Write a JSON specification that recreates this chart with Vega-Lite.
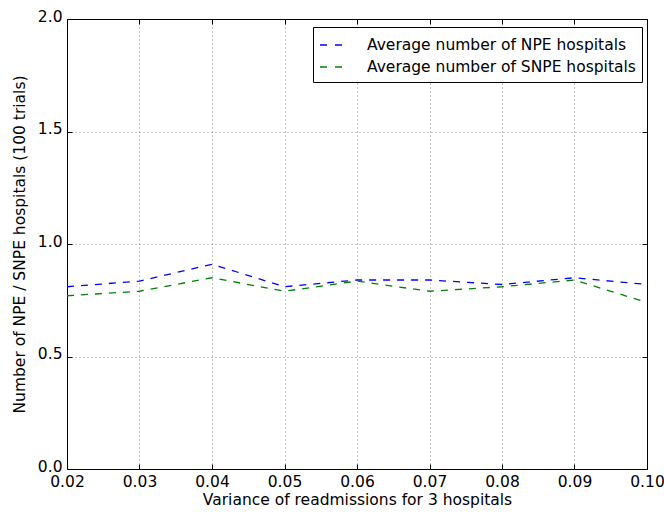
{
  "$schema": "https://vega.github.io/schema/vega-lite/v6.json",
  "width": 580,
  "height": 450,
  "autosize": {"type": "none"},
  "padding": {"left": 67, "top": 19, "right": 17, "bottom": 43},
  "background": "white",
  "config": {
    "view": {"stroke": "black", "strokeWidth": 1},
    "font": "DejaVu Sans",
    "axis": {
      "labelFont": "DejaVu Sans",
      "titleFont": "DejaVu Sans",
      "labelFontSize": 15.5,
      "titleFontSize": 15.5,
      "titleFontWeight": "normal",
      "labelColor": "black",
      "titleColor": "black",
      "domain": false,
      "tickColor": "black",
      "tickSize": -5,
      "grid": true,
      "gridColor": "black",
      "gridOpacity": 0.6,
      "gridDash": [1, 3],
      "gridWidth": 0.8
    }
  },
  "data": {
    "values": [
      {"x": 0.02, "y": 0.81, "s": "Average number of NPE hospitals"},
      {"x": 0.03, "y": 0.835, "s": "Average number of NPE hospitals"},
      {"x": 0.04, "y": 0.91, "s": "Average number of NPE hospitals"},
      {"x": 0.05, "y": 0.81, "s": "Average number of NPE hospitals"},
      {"x": 0.06, "y": 0.84, "s": "Average number of NPE hospitals"},
      {"x": 0.07, "y": 0.84, "s": "Average number of NPE hospitals"},
      {"x": 0.08, "y": 0.82, "s": "Average number of NPE hospitals"},
      {"x": 0.09, "y": 0.85, "s": "Average number of NPE hospitals"},
      {"x": 0.10, "y": 0.82, "s": "Average number of NPE hospitals"},
      {"x": 0.02, "y": 0.77, "s": "Average number of SNPE hospitals"},
      {"x": 0.03, "y": 0.79, "s": "Average number of SNPE hospitals"},
      {"x": 0.04, "y": 0.85, "s": "Average number of SNPE hospitals"},
      {"x": 0.05, "y": 0.79, "s": "Average number of SNPE hospitals"},
      {"x": 0.06, "y": 0.835, "s": "Average number of SNPE hospitals"},
      {"x": 0.07, "y": 0.79, "s": "Average number of SNPE hospitals"},
      {"x": 0.08, "y": 0.81, "s": "Average number of SNPE hospitals"},
      {"x": 0.09, "y": 0.84, "s": "Average number of SNPE hospitals"},
      {"x": 0.10, "y": 0.74, "s": "Average number of SNPE hospitals"}
    ]
  },
  "layer": [
    {
      "mark": {"type": "line", "strokeDash": [7, 7], "strokeWidth": 1.3, "clip": true},
      "encoding": {
        "x": {
          "field": "x", "type": "quantitative",
          "scale": {"domain": [0.02, 0.10], "nice": false, "zero": false},
          "axis": {"values": [0.02, 0.03, 0.04, 0.05, 0.06, 0.07, 0.08, 0.09, 0.10], "format": ".2f", "title": "Variance of readmissions for 3 hospitals", "labelPadding": 10, "titlePadding": 3, "labelFlush": false}
        },
        "y": {
          "field": "y", "type": "quantitative",
          "scale": {"domain": [0, 2], "nice": false},
          "axis": {"values": [0, 0.5, 1, 1.5, 2], "format": ".1f", "title": "Number of NPE / SNPE hospitals (100 trials)", "labelPadding": 10, "titlePadding": 10, "labelFlush": false, "labelOffset": -3}
        },
        "color": {
          "field": "s", "type": "nominal",
          "scale": {"domain": ["Average number of NPE hospitals", "Average number of SNPE hospitals"], "range": ["#0000ff", "#008000"]},
          "legend": {
            "title": null,
            "orient": "none",
            "legendX": 246,
            "legendY": 8,
            "strokeColor": "black",
            "fillColor": "white",
            "padding": 6,
            "symbolType": "stroke",
            "symbolDash": [7, 8],
            "symbolStrokeWidth": 1.3,
            "symbolSize": 484,
            "labelFontSize": 15.5,
            "labelFont": "DejaVu Sans",
            "labelColor": "black",
            "rowPadding": 1,
            "labelOffset": 24,
            "labelLimit": 400
          }
        }
      }
    },
    {
      "mark": {"type": "rule", "opacity": 0},
      "encoding": {
        "x": {"datum": 0.02, "type": "quantitative", "axis": {"orient": "top", "values": [0.02, 0.03, 0.04, 0.05, 0.06, 0.07, 0.08, 0.09, 0.10], "labels": false, "grid": false, "title": null}}
      }
    },
    {
      "mark": {"type": "rule", "opacity": 0},
      "encoding": {
        "y": {"datum": 0, "type": "quantitative", "axis": {"orient": "right", "values": [0, 0.5, 1, 1.5, 2], "labels": false, "grid": false, "title": null}}
      }
    }
  ],
  "resolve": {"axis": {"x": "independent", "y": "independent"}}
}
